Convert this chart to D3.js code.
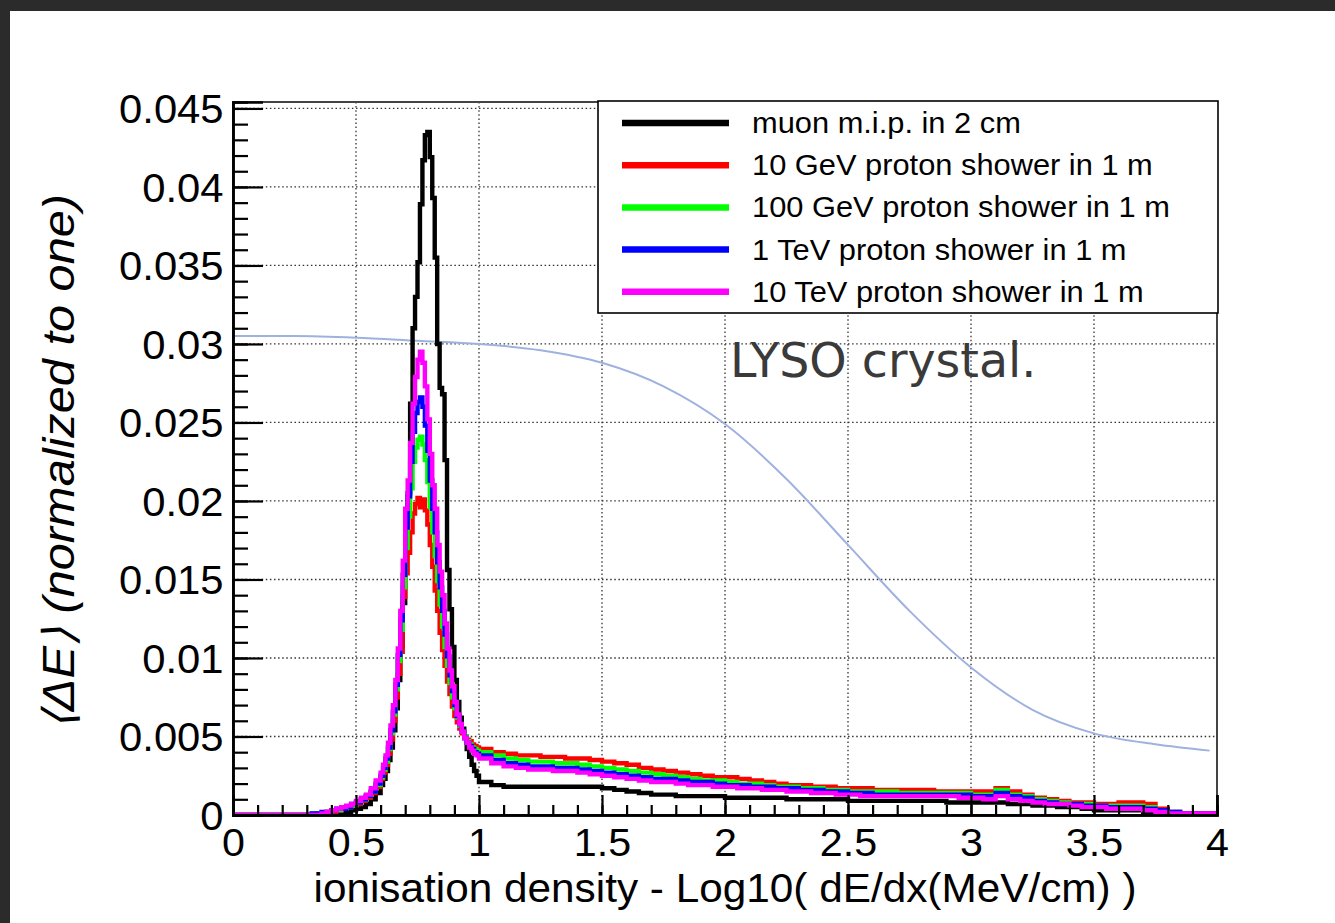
<!DOCTYPE html>
<html>
<head>
<meta charset="utf-8">
<script src="https://cdn.jsdelivr.net/npm/d3@7"></script>
<style>
  html, body { margin: 0; padding: 0; background: #2b2b2b; overflow: hidden; }
  svg { display: block; }
</style>
</head>
<body>
<svg id="chart" width="1335" height="923"></svg>
<script>
// Histogram binning: [from, to, bin width]
const binLayout = [[0, 0.3, 0.3], [0.3, 0.6, 0.02], [0.6, 1.0, 0.01], [1.0, 4.0, 0.05]];

const seriesNames = [
  "muon m.i.p. in 2 cm",
  "10 GeV proton shower in 1 m",
  "100 GeV proton shower in 1 m",
  "1 TeV proton shower in 1 m",
  "10 TeV proton shower in 1 m"
];
const seriesColors = ["#000000", "#ff0000", "#00ff00", "#0000ff", "#ff00ff"];

// <ΔE> per bin (normalized to one)
const muon = [0,
  0, 0, 0, 0, 0, 0, 0.0001, 0.0001, 0.0002, 0.0003, 0.0004, 0.0005, 0.0007, 0.0010, 0.0014,
  0.0019, 0.0023, 0.0028, 0.0035, 0.0043, 0.0054, 0.0068, 0.0086, 0.0108, 0.0135,
  0.0168, 0.0205, 0.0262, 0.0310, 0.0330, 0.0352, 0.0389, 0.0417, 0.0433, 0.0435,
  0.0419, 0.0393, 0.0355, 0.0300, 0.0272, 0.0268, 0.0226, 0.0156, 0.0131, 0.0107,
  0.0086, 0.0072, 0.0062, 0.0055, 0.0049, 0.0042, 0.0037, 0.0032, 0.0028, 0.0025,
  0.0021, 0.0019, 0.0018, 0.0018, 0.0018, 0.0018, 0.0018, 0.0018, 0.0018, 0.0018,
  0.0017, 0.0016, 0.0015, 0.0014, 0.0013, 0.0013, 0.0012, 0.0012, 0.0012, 0.0012,
  0.0011, 0.0011, 0.0011, 0.0011, 0.0011, 0.0010, 0.0010, 0.0010, 0.0010, 0.0010,
  0.0009, 0.0009, 0.0009, 0.0009, 0.0009, 0.0009, 0.0009, 0.0009, 0.0008, 0.0008,
  0.0008, 0.0008, 0.0008, 0.0007, 0.0007, 0.0006, 0.0006, 0.0005, 0.0005, 0.0004,
  0.0003, 0.0003, 0.0003, 0.0003, 0.0002, 0.0002, 0.0001, 0.0001, 0.0001, 0.0001];

const proton10GeV = [0,
  0, 0, 0.0001, 0.0001, 0.0002, 0.0002, 0.0003, 0.0004, 0.0005, 0.0006, 0.0007, 0.0009, 0.0011, 0.0014, 0.0018,
  0.0023, 0.0027, 0.0032, 0.0039, 0.0048, 0.0060, 0.0075, 0.0090, 0.0104, 0.0139,
  0.0154, 0.0167, 0.0180, 0.0192, 0.0198, 0.0202, 0.0196, 0.0201, 0.0194, 0.0185,
  0.0172, 0.0158, 0.0143, 0.0130, 0.0116, 0.0105, 0.0095, 0.0085, 0.0077, 0.0069,
  0.0063, 0.0059, 0.0055, 0.0052, 0.0050, 0.0048, 0.0047, 0.0045, 0.0044, 0.0043,
  0.0042, 0.0040, 0.0039, 0.0038, 0.0038, 0.0037, 0.0037, 0.0036, 0.0036, 0.0035,
  0.0034, 0.0033, 0.0032, 0.0030, 0.0029, 0.0028, 0.0027, 0.0026, 0.0025, 0.0024,
  0.0024, 0.0023, 0.0022, 0.0021, 0.0020, 0.0019, 0.0019, 0.0018, 0.0018, 0.0017,
  0.0017, 0.0017, 0.0016, 0.0016, 0.0016, 0.0016, 0.0016, 0.0015, 0.0015, 0.0015,
  0.0015, 0.0015, 0.0017, 0.0015, 0.0013, 0.0011, 0.0010, 0.0009, 0.0008, 0.0008,
  0.0007, 0.0007, 0.0008, 0.0008, 0.0007, 0.0004, 0.0002, 0.0001, 0.0001, 0.0001];

const proton100GeV = [0,
  0, 0.0001, 0.0001, 0.0001, 0.0002, 0.0003, 0.0003, 0.0004, 0.0005, 0.0006, 0.0008, 0.0010, 0.0012, 0.0015, 0.0019,
  0.0024, 0.0029, 0.0034, 0.0042, 0.0052, 0.0064, 0.0080, 0.0098, 0.0118, 0.0145,
  0.0170, 0.0190, 0.0208, 0.0225, 0.0234, 0.0239, 0.0241, 0.0236, 0.0226, 0.0212,
  0.0196, 0.0180, 0.0165, 0.0149, 0.0134, 0.0120, 0.0107, 0.0095, 0.0084, 0.0075,
  0.0068, 0.0062, 0.0057, 0.0053, 0.0050, 0.0047, 0.0045, 0.0043, 0.0042, 0.0041,
  0.0040, 0.0038, 0.0036, 0.0035, 0.0034, 0.0034, 0.0033, 0.0033, 0.0032, 0.0031,
  0.0030, 0.0029, 0.0028, 0.0027, 0.0026, 0.0025, 0.0024, 0.0023, 0.0022, 0.0022,
  0.0021, 0.0020, 0.0020, 0.0019, 0.0018, 0.0018, 0.0017, 0.0017, 0.0016, 0.0016,
  0.0015, 0.0015, 0.0015, 0.0015, 0.0014, 0.0014, 0.0014, 0.0014, 0.0014, 0.0014,
  0.0013, 0.0013, 0.0016, 0.0013, 0.0012, 0.0010, 0.0009, 0.0008, 0.0007, 0.0007,
  0.0006, 0.0006, 0.0006, 0.0006, 0.0005, 0.0003, 0.0002, 0.0001, 0.0001, 0.0001];

const proton1TeV = [0,
  0, 0.0001, 0.0001, 0.0002, 0.0002, 0.0003, 0.0004, 0.0004, 0.0005, 0.0007, 0.0008, 0.0010, 0.0012, 0.0015, 0.0020,
  0.0025, 0.0030, 0.0036, 0.0043, 0.0054, 0.0066, 0.0083, 0.0102, 0.0124, 0.0153,
  0.0183, 0.0203, 0.0225, 0.0244, 0.0256, 0.0263, 0.0266, 0.0260, 0.0248, 0.0232,
  0.0213, 0.0195, 0.0180, 0.0161, 0.0145, 0.0130, 0.0115, 0.0101, 0.0089, 0.0079,
  0.0070, 0.0063, 0.0058, 0.0053, 0.0049, 0.0046, 0.0044, 0.0042, 0.0040, 0.0039,
  0.0038, 0.0035, 0.0033, 0.0032, 0.0031, 0.0031, 0.0030, 0.0030, 0.0029, 0.0028,
  0.0027, 0.0026, 0.0025, 0.0024, 0.0023, 0.0023, 0.0022, 0.0021, 0.0021, 0.0020,
  0.0019, 0.0019, 0.0018, 0.0018, 0.0017, 0.0017, 0.0016, 0.0016, 0.0015, 0.0015,
  0.0014, 0.0014, 0.0013, 0.0013, 0.0013, 0.0013, 0.0013, 0.0013, 0.0013, 0.0013,
  0.0012, 0.0012, 0.0014, 0.0012, 0.0011, 0.0009, 0.0008, 0.0007, 0.0007, 0.0006,
  0.0006, 0.0005, 0.0005, 0.0005, 0.0004, 0.0003, 0.0002, 0.0001, 0.0001, 0.0001];

const proton10TeV = [0,
  0, 0, 0, 0.0001, 0.0002, 0.0003, 0.0004, 0.0005, 0.0006, 0.0007, 0.0009, 0.0011, 0.0013, 0.0017, 0.0022,
  0.0027, 0.0032, 0.0038, 0.0046, 0.0057, 0.0070, 0.0086, 0.0106, 0.0130, 0.0162,
  0.0195, 0.0213, 0.0237, 0.0262, 0.0279, 0.0290, 0.0295, 0.0288, 0.0273, 0.0252,
  0.0230, 0.0210, 0.0195, 0.0172, 0.0155, 0.0140, 0.0122, 0.0106, 0.0092, 0.0082,
  0.0072, 0.0064, 0.0058, 0.0053, 0.0049, 0.0046, 0.0043, 0.0041, 0.0039, 0.0038,
  0.0036, 0.0033, 0.0031, 0.0030, 0.0029, 0.0029, 0.0028, 0.0028, 0.0027, 0.0026,
  0.0025, 0.0024, 0.0023, 0.0022, 0.0021, 0.0021, 0.0020, 0.0019, 0.0019, 0.0018,
  0.0018, 0.0017, 0.0017, 0.0016, 0.0016, 0.0015, 0.0015, 0.0014, 0.0014, 0.0013,
  0.0013, 0.0012, 0.0012, 0.0012, 0.0012, 0.0012, 0.0012, 0.0012, 0.0012, 0.0011,
  0.0011, 0.0010, 0.0012, 0.0010, 0.0009, 0.0008, 0.0007, 0.0007, 0.0006, 0.0005,
  0.0005, 0.0004, 0.0004, 0.0004, 0.0003, 0.0002, 0.0001, 0.0001, 0.0001, 0.0001];

// Relative light-yield curve of the LYSO crystal, on the same vertical scale
const lysoX = [0, 0.25, 0.5, 0.75, 1.0, 1.25, 1.5, 1.75, 2.0, 2.25, 2.5, 2.75, 3.0, 3.25, 3.5, 3.75, 3.97];
const lysoY = [0.0305, 0.0305, 0.0304, 0.0302, 0.0300, 0.0296, 0.0288, 0.0273, 0.0249, 0.0214,
               0.0172, 0.0130, 0.0094, 0.0067, 0.0052, 0.0045, 0.0041];

const xTickValues = [0, 0.5, 1, 1.5, 2, 2.5, 3, 3.5, 4];
const xTickLabels = ["0", "0.5", "1", "1.5", "2", "2.5", "3", "3.5", "4"];
const yTickValues = [0, 0.005, 0.01, 0.015, 0.02, 0.025, 0.03, 0.035, 0.04, 0.045];
const yTickLabels = ["0", "0.005", "0.01", "0.015", "0.02", "0.025", "0.03", "0.035", "0.04", "0.045"];

const xTitle = "ionisation density - Log10( dE/dx(MeV/cm) )";
const yTitle = "\u27E8\u0394E\u27E9 (normalized to one)";
const note = "LYSO crystal.";

// ---------------------------------------------------------------------------
const FONT = "'Liberation Sans', Arial, Helvetica, sans-serif";
const SX = 1.045; // horizontal glyph stretch of the canvas

const svg = d3.select("#chart");
const W = 1335, H = 923;
const frame = { left: 233, right: 1217, top: 102, bottom: 815 };

svg.append("rect").attr("width", W).attr("height", H).attr("fill", "#2b2b2b");
svg.append("rect").attr("x", 10).attr("y", 11).attr("width", W - 10).attr("height", H - 11).attr("fill", "#ffffff");

const x = d3.scaleLinear().domain([0, 4]).range([frame.left, frame.right]);
const y = d3.scaleLinear().domain([0, 0.04541]).range([frame.bottom, frame.top]);

// bin edges
const edges = [];
binLayout.forEach(([a, b, w]) => {
  const n = Math.round((b - a) / w);
  for (let i = 0; i < n; i++) edges.push(+(a + i * w).toFixed(4));
});
edges.push(4);

svg.append("defs").append("clipPath").attr("id", "plotclip")
  .append("rect").attr("x", frame.left).attr("y", frame.top - 2)
  .attr("width", frame.right - frame.left + 2).attr("height", frame.bottom - frame.top + 2);

// grid
const grid = svg.append("g").attr("stroke", "#333").attr("stroke-width", 1.3)
  .attr("stroke-dasharray", "1.5,2.6");
grid.selectAll("line.h").data(yTickValues.filter(d => d > 0)).join("line")
  .attr("x1", frame.left).attr("x2", frame.right)
  .attr("y1", d => y(d)).attr("y2", d => y(d));
grid.selectAll("line.v").data(xTickValues.filter(d => d > 0 && d < 4)).join("line")
  .attr("y1", frame.top).attr("y2", frame.bottom)
  .attr("x1", d => x(d)).attr("x2", d => x(d));

const plot = svg.append("g").attr("clip-path", "url(#plotclip)");

// LYSO curve
plot.append("path")
  .datum(lysoX.map((d, i) => [d, lysoY[i]]))
  .attr("fill", "none").attr("stroke", "#9fb2df").attr("stroke-width", 2)
  .attr("d", d3.line().x(d => x(d[0])).y(d => y(d[1])).curve(d3.curveMonotoneX));

// histograms (step outlines)
const seriesValues = [muon, proton10GeV, proton100GeV, proton1TeV, proton10TeV];
const step = d3.line().x(d => x(d[0])).y(d => y(d[1])).curve(d3.curveStepAfter);
seriesValues.forEach((vals, k) => {
  const pts = vals.map((v, i) => [edges[i], v]);
  pts.push([edges[vals.length], vals[vals.length - 1]]);
  plot.append("path").datum(pts)
    .attr("fill", "none").attr("stroke", seriesColors[k]).attr("stroke-width", 4.4)
    .attr("stroke-linejoin", "miter")
    .attr("d", step);
});

// frame
svg.append("rect").attr("x", frame.left).attr("y", frame.top)
  .attr("width", frame.right - frame.left).attr("height", frame.bottom - frame.top)
  .attr("fill", "none").attr("stroke", "#444").attr("stroke-width", 2);

// axes
function styleAxis(g) {
  g.select(".domain").attr("stroke", "#000").attr("stroke-width", 2.5);
  g.selectAll(".tick line").attr("stroke", "#000").attr("stroke-width", 2.2);
}
const yMinor = d3.range(0, 0.0455, 0.001);
svg.append("g").attr("transform", `translate(${frame.left},0)`)
  .call(d3.axisLeft(y).tickValues(yMinor).tickSize(-15).tickFormat(""))
  .call(styleAxis);
const yAxis = svg.append("g").attr("transform", `translate(${frame.left},0)`)
  .call(d3.axisLeft(y).tickValues(yTickValues).tickSize(-30).tickPadding(9)
    .tickFormat((d, i) => yTickLabels[i]))
  .call(styleAxis);
yAxis.selectAll(".tick text")
  .attr("font-family", FONT).attr("font-size", 40).attr("fill", "#000")
  .attr("dy", "0.36em").attr("transform", `scale(${SX},1)`);

const xMinor = d3.range(0, 4.001, 0.1);
svg.append("g").attr("transform", `translate(0,${frame.bottom})`)
  .call(d3.axisBottom(x).tickValues(xMinor).tickSize(-10).tickFormat(""))
  .call(styleAxis);
const xAxis = svg.append("g").attr("transform", `translate(0,${frame.bottom})`)
  .call(d3.axisBottom(x).tickValues(xTickValues).tickSize(-20).tickPadding(13)
    .tickFormat((d, i) => xTickLabels[i]))
  .call(styleAxis);
xAxis.selectAll(".tick text")
  .attr("font-family", FONT).attr("font-size", 39.5).attr("fill", "#000")
  .attr("transform", `scale(${SX},1)`);
svg.selectAll(".domain").attr("stroke", "#000");

// axis titles
svg.append("text")
  .attr("transform", `translate(725,901.5) scale(${SX},1)`)
  .attr("text-anchor", "middle")
  .attr("font-family", FONT).attr("font-size", 40.5).attr("fill", "#000")
  .text(xTitle);

svg.append("text")
  .attr("transform", `translate(74,462) rotate(-90) scale(1.16,${SX})`)
  .attr("text-anchor", "middle")
  .attr("font-family", FONT).attr("font-size", 42).attr("font-style", "italic").attr("fill", "#000")
  .text(yTitle);

// legend
const legend = svg.append("g");
legend.append("rect").attr("x", 598).attr("y", 101).attr("width", 620).attr("height", 212)
  .attr("fill", "#fff").attr("stroke", "#000").attr("stroke-width", 1.6);
seriesNames.forEach((name, i) => {
  const cy = 123 + i * 42.2;
  legend.append("line").attr("x1", 622).attr("x2", 729).attr("y1", cy).attr("y2", cy)
    .attr("stroke", seriesColors[i]).attr("stroke-width", 6.5);
  legend.append("text")
    .attr("transform", `translate(752,${cy + 10}) scale(${SX},1)`)
    .attr("font-family", FONT).attr("font-size", 29.5).attr("fill", "#000")
    .text(name);
});

// annotation
svg.append("text").attr("x", 730).attr("y", 377)
  .attr("font-family", "'DejaVu Sans', sans-serif").attr("font-size", 47.5)
  .attr("fill", "#3a3a3a").text(note);
</script>
</body>
</html>
